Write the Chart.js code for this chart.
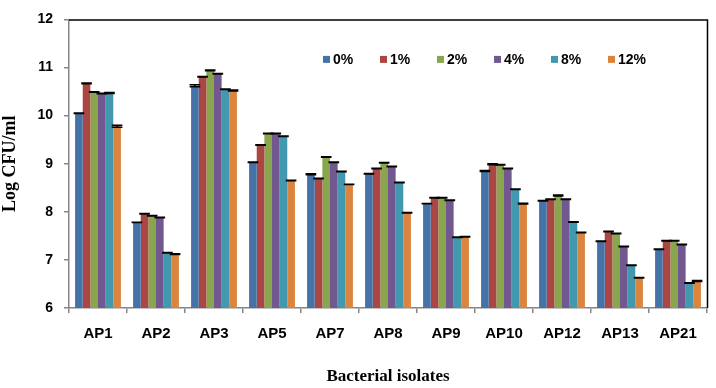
<!DOCTYPE html>
<html>
<head>
<meta charset="utf-8">
<script src="https://cdn.jsdelivr.net/npm/chart.js@4.4.1/dist/chart.umd.min.js"></script>
<style>
  html, body { margin: 0; padding: 0; background: #ffffff; }
  #wrap { width: 716px; height: 388px; }
</style>
</head>
<body>
<div id="wrap"><canvas id="c" width="716" height="388"></canvas></div>
<script>
// ---- Data ----
const categories = ["AP1", "AP2", "AP3", "AP5", "AP7", "AP8", "AP9", "AP10", "AP12", "AP13", "AP21"];
const seriesLabels = ["0%", "1%", "2%", "4%", "8%", "12%"];
const values0  = [10.05, 7.78, 10.62, 9.03, 8.78, 8.79, 8.17, 8.85, 8.23, 7.39, 7.22];
const values1  = [10.67, 7.96, 10.81, 9.39, 8.69, 8.90, 8.29, 8.99, 8.26, 7.59, 7.40];
const values2  = [10.49, 7.92, 10.94, 9.63, 9.14, 9.02, 8.29, 8.98, 8.34, 7.55, 7.40];
const values4  = [10.46, 7.88, 10.87, 9.63, 9.03, 8.94, 8.24, 8.90, 8.26, 7.28, 7.32];
const values8  = [10.47, 7.15, 10.55, 9.57, 8.84, 8.61, 7.47, 8.47, 7.79, 6.89, 6.52];
const values12 = [9.78, 7.12, 10.52, 8.65, 8.57, 7.98, 7.48, 8.17, 7.57, 6.63, 6.56];
const errors0  = [0.005, 0.005, 0.02, 0.005, 0.01, 0.005, 0.005, 0.01, 0.005, 0.005, 0.005];
const errors1  = [0.01, 0.005, 0.005, 0.005, 0.005, 0.005, 0.005, 0.01, 0.005, 0.005, 0.005];
const errors2  = [0.005, 0.005, 0.01, 0.005, 0.005, 0.005, 0.005, 0.005, 0.01, 0.005, 0.005];
const errors4  = [0.005, 0.005, 0.005, 0.005, 0.005, 0.005, 0.005, 0.005, 0.005, 0.005, 0.005];
const errors8  = [0.01, 0.005, 0.005, 0.005, 0.005, 0.005, 0.005, 0.005, 0.005, 0.005, 0.005];
const errors12 = [0.02, 0.01, 0.01, 0.005, 0.005, 0.005, 0.005, 0.01, 0.005, 0.005, 0.01];
const yTicks = [6, 7, 8, 9, 10, 11, 12];

const allValues = [values0, values1, values2, values4, values8, values12];
const allErrors = [errors0, errors1, errors2, errors4, errors8, errors12];
const colors = ["#4572A7", "#AA4643", "#89A54E", "#71588F", "#4198AF", "#DB843D"];

const datasets = seriesLabels.map((lab, i) => ({
  label: lab,
  data: allValues[i],
  errors: allErrors[i],
  backgroundColor: colors[i],
  borderWidth: 0,
  categoryPercentage: 0.79,
  barPercentage: 1.0
}));

// Error bars drawn from the scales
const errorBarPlugin = {
  id: 'errorBars',
  afterDatasetsDraw(chart) {
    const ctx = chart.ctx;
    const yScale = chart.scales.y;
    ctx.save();
    ctx.strokeStyle = '#000000';
    ctx.lineWidth = 1.5;
    chart.data.datasets.forEach((ds, di) => {
      const meta = chart.getDatasetMeta(di);
      meta.data.forEach((bar, j) => {
        const v = ds.data[j], e = ds.errors[j];
        const yTop = yScale.getPixelForValue(v + e);
        const yBot = yScale.getPixelForValue(v - e);
        const half = bar.width / 2 + 1.5;
        ctx.beginPath();
        ctx.moveTo(bar.x, yTop); ctx.lineTo(bar.x, yBot);
        ctx.moveTo(bar.x - half, yTop); ctx.lineTo(bar.x + half, yTop);
        ctx.moveTo(bar.x - half, yBot); ctx.lineTo(bar.x + half, yBot);
        ctx.stroke();
      });
    });
    ctx.restore();
  }
};

// Top and right frame of the plot area
const framePlugin = {
  id: 'frame',
  afterDraw(chart) {
    const a = chart.chartArea, ctx = chart.ctx;
    ctx.save();
    ctx.strokeStyle = '#000000';
    ctx.lineWidth = 1.5;
    ctx.beginPath();
    ctx.moveTo(a.left, a.top + 0.5);
    ctx.lineTo(a.right + 0.5, a.top + 0.5);
    ctx.lineTo(a.right + 0.5, a.bottom);
    ctx.stroke();
    ctx.restore();
  }
};

// Legend inside the plot area
const legendPlugin = {
  id: 'innerLegend',
  afterDraw(chart) {
    const a = chart.chartArea, ctx = chart.ctx;
    const x0 = a.left + 254, yc = a.top + 40, step = 57, box = 7;
    ctx.save();
    ctx.font = 'bold 14px "Liberation Sans", Arial, sans-serif';
    ctx.textBaseline = 'middle';
    ctx.textAlign = 'left';
    chart.data.datasets.forEach((ds, i) => {
      const x = x0 + i * step;
      ctx.fillStyle = ds.backgroundColor;
      ctx.fillRect(x, yc - box / 2, box, box);
      ctx.fillStyle = '#000000';
      ctx.fillText(ds.label, x + box + 3, yc + 0.5);
    });
    ctx.restore();
  }
};

new Chart(document.getElementById('c'), {
  type: 'bar',
  data: { labels: categories, datasets: datasets },
  plugins: [errorBarPlugin, framePlugin, legendPlugin],
  options: {
    responsive: false,
    animation: false,
    devicePixelRatio: 1,
    layout: { padding: { top: 15, right: 9, left: 0, bottom: 0 } },
    plugins: { legend: { display: false }, tooltip: { enabled: false } },
    scales: {
      x: {
        offset: true,
        grid: { offset: true, drawOnChartArea: false, drawTicks: true, tickLength: 5, color: '#868686', lineWidth: 1.5 },
        border: { color: '#868686', width: 1.5 },
        ticks: { color: '#000000', padding: 12, font: { family: '"Liberation Sans", Arial, sans-serif', size: 15, weight: 'bold' } },
        title: { display: true, text: 'Bacterial isolates', color: '#000000', padding: { top: 1, bottom: 1 },
                 font: { family: '"Liberation Serif", "Times New Roman", serif', size: 17, weight: 'bold' } },
        afterFit(scale) { scale.height = 80; }
      },
      y: {
        min: 6, max: 12,
        afterBuildTicks(scale) { scale.ticks = yTicks.map(v => ({ value: v })); },
        grid: { drawOnChartArea: false, drawTicks: true, tickLength: 5, color: '#868686', lineWidth: 1.5 },
        border: { color: '#868686', width: 1.5 },
        ticks: { color: '#000000', padding: 11, font: { family: '"Liberation Sans", Arial, sans-serif', size: 14, weight: 'bold' } },
        title: { display: true, text: 'Log CFU/ml', color: '#000000', padding: 0,
                 font: { family: '"Liberation Serif", "Times New Roman", serif', size: 18, weight: 'bold' } },
        afterFit(scale) { scale.width = 69; }
      }
    }
  }
});
</script>
</body>
</html>
